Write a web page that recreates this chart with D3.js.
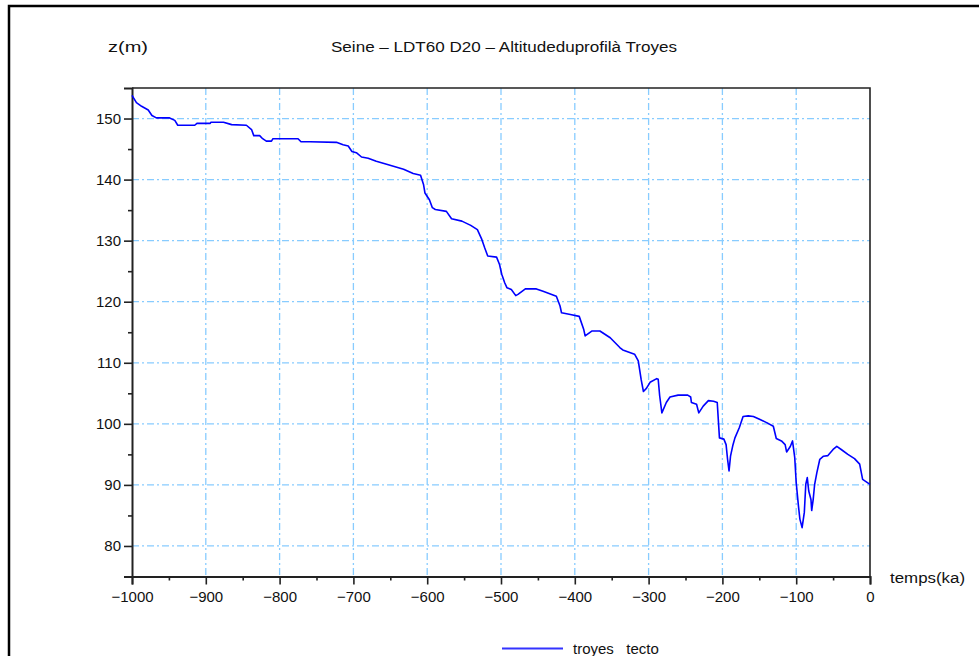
<!DOCTYPE html>
<html><head><meta charset="utf-8">
<script src="https://cdn.jsdelivr.net/npm/d3@7"></script>
<style>html,body{margin:0;padding:0;background:#fff;}svg{display:block;}text{font-family:"Liberation Sans",Arial,sans-serif;fill:#111;}</style>
</head><body>
<svg id="c" width="979" height="656"></svg>
<script>
const timeKa = [-1000,-994,-987,-978,-973,-967,-949,-942,-938,-915,-912,-894,-893,-876,-865,-845,-838,-835,-827,-823,-818,-811,-809,-775,-771,-759,-723,-714,-707,-702,-696,-689,-680,-669,-655,-632,-619,-609,-605,-603,-597,-593,-589,-574,-567,-553,-541,-532,-526,-522,-518,-506,-502,-499,-495,-492,-486,-480,-477,-467,-452,-443,-425,-420,-418,-406,-394,-388,-386,-377,-366,-352,-339,-335,-319,-314,-310,-307,-303,-298,-289,-287,-285,-282,-276,-271,-260,-247,-243,-242,-235,-232,-226,-219,-212,-207,-204,-198,-195,-193,-191,-189,-186,-183,-177,-172,-165,-158,-149,-140,-131,-127,-120,-115,-113,-108,-105,-102,-100,-97,-95,-92,-89,-87,-85,-83,-80,-79,-77,-75,-72,-68,-63,-57,-50,-45,-39,-30,-21,-14,-10,0];
const altitude = [153.8,152.6,152.0,151.4,150.5,150.1,150.1,149.7,148.9,148.9,149.2,149.2,149.4,149.4,149.0,148.9,148.2,147.2,147.2,146.7,146.3,146.3,146.7,146.7,146.2,146.2,146.1,145.7,145.5,144.6,144.4,143.7,143.5,143.0,142.5,141.7,141.0,140.7,139.2,137.8,136.7,135.4,135.1,134.8,133.6,133.2,132.5,131.8,130.2,128.8,127.5,127.3,126.1,124.5,123.1,122.3,122.0,121.0,121.2,122.1,122.1,121.7,120.9,119.3,118.2,117.9,117.6,115.5,114.4,115.2,115.2,114.1,112.5,112.1,111.4,110.3,107.2,105.3,105.8,106.8,107.4,107.3,104.6,101.8,103.5,104.4,104.7,104.7,104.4,103.5,103.2,101.8,102.9,103.8,103.7,103.5,97.7,97.5,96.6,94.2,92.3,94.7,96.4,97.7,99.4,101.2,101.3,101.2,100.7,100.2,99.6,97.6,97.2,96.6,95.4,96.3,97.2,94.5,90.4,86.6,84.4,83.0,85.5,90.1,91.2,89.0,87.6,85.8,87.6,90.1,92.0,94.2,94.7,94.8,95.8,96.3,95.8,95.0,94.3,93.4,90.9,90.1];
const xTicks = [-1000,-900,-800,-700,-600,-500,-400,-300,-200,-100,0];
const yTicks = [80,90,100,110,120,130,140,150];
const xMinor = [-950,-850,-750,-650,-550,-450,-350,-250,-150,-50];
const yMinor = [85,95,105,115,125,135,145];
const titleText = "Seine – LDT60 D20 – Altitudeduprofilà Troyes";
const yLabel = "z(m)";
const xLabel = "temps(ka)";
const legendLabel = "troyes   tecto";

const svg = d3.select("#c");
const L = 132, R = 870, T = 88, B = 576.5;
const x = d3.scaleLinear().domain([-1000, 0]).range([L, R]);
const y = d3.scaleLinear().domain([75, 155]).range([B, T]);

// outer frame
svg.append("path").attr("d", `M9,700 L9,6 L1000,6`).attr("fill","none").attr("stroke","#000").attr("stroke-width",2.5);

// grid
const gridCol = "#88ccff", dash = "7,3,2,3";
svg.append("g").selectAll("line").data(xTicks.filter(d => d > -1000 && d < 0)).join("line")
  .attr("x1", d => x(d)).attr("x2", d => x(d)).attr("y1", T).attr("y2", B)
  .attr("stroke", gridCol).attr("stroke-width", 1.3).attr("stroke-dasharray", dash);
svg.append("g").selectAll("line").data(yTicks).join("line")
  .attr("x1", L).attr("x2", R).attr("y1", d => y(d)).attr("y2", d => y(d))
  .attr("stroke", gridCol).attr("stroke-width", 1.3).attr("stroke-dasharray", dash);

// box top/right
svg.append("path").attr("d", `M${L},${T} L${R},${T} L${R},${B}`).attr("fill","none").attr("stroke","#222").attr("stroke-width",1.6);

// axes
const xAxis = d3.axisBottom(x).tickValues(xTicks).tickSize(8).tickPadding(5).tickFormat(d => d === 0 ? "0" : "\u2212" + Math.abs(d));
const gx = svg.append("g").attr("transform", `translate(0,${B})`).call(xAxis);
const yAxis = d3.axisLeft(y).tickValues(yTicks).tickSize(8).tickPadding(3);
const gy = svg.append("g").attr("transform", `translate(${L},0)`).call(yAxis);
[gx, gy].forEach(g => {
  g.select(".domain").attr("stroke","#222").attr("stroke-width",2);
  g.selectAll(".tick line").attr("stroke","#222").attr("stroke-width",1.6);
  g.selectAll("text").attr("font-family","Liberation Sans, Arial, sans-serif").attr("font-size",15).attr("fill","#111");
});
gx.selectAll(".tick text").attr("dy","0.85em");
// minor ticks
svg.append("g").attr("transform", `translate(0,${B})`).call(d3.axisBottom(x).tickValues(xMinor).tickSize(4).tickFormat(""))
  .call(g => { g.select(".domain").remove(); g.selectAll("line").attr("stroke","#222").attr("stroke-width",1.6); });
svg.append("g").attr("transform", `translate(${L},0)`).call(d3.axisLeft(y).tickValues(yMinor).tickSize(4).tickFormat(""))
  .call(g => { g.select(".domain").remove(); g.selectAll("line").attr("stroke","#222").attr("stroke-width",1.6); });

// curve
const data = timeKa.map((t, i) => ({t, z: altitude[i]}));
svg.append("path").datum(data)
  .attr("d", d3.line().x(d => x(d.t)).y(d => y(d.z)))
  .attr("fill","none").attr("stroke","#0000ff").attr("stroke-width",1.6).attr("stroke-linejoin","round");

// labels
svg.append("text").attr("x", 504).attr("y", 52).attr("text-anchor","middle").attr("font-size",14)
  .attr("textLength", 346).attr("lengthAdjust","spacingAndGlyphs").text(titleText);
svg.append("text").attr("x", 108).attr("y", 52).attr("font-size",14).attr("textLength",40).attr("lengthAdjust","spacingAndGlyphs").text(yLabel);
svg.append("text").attr("x", 890).attr("y", 583).attr("font-size",14).attr("textLength",75).attr("lengthAdjust","spacingAndGlyphs").text(xLabel);

// legend
svg.append("line").attr("x1", 502).attr("x2", 563).attr("y1", 648.5).attr("y2", 648.5).attr("stroke","#3333ff").attr("stroke-width",1.8);
svg.append("text").attr("x", 573).attr("y", 654).attr("font-size",15).attr("xml:space","preserve").style("white-space","pre").text(legendLabel);
</script>
</body></html>
